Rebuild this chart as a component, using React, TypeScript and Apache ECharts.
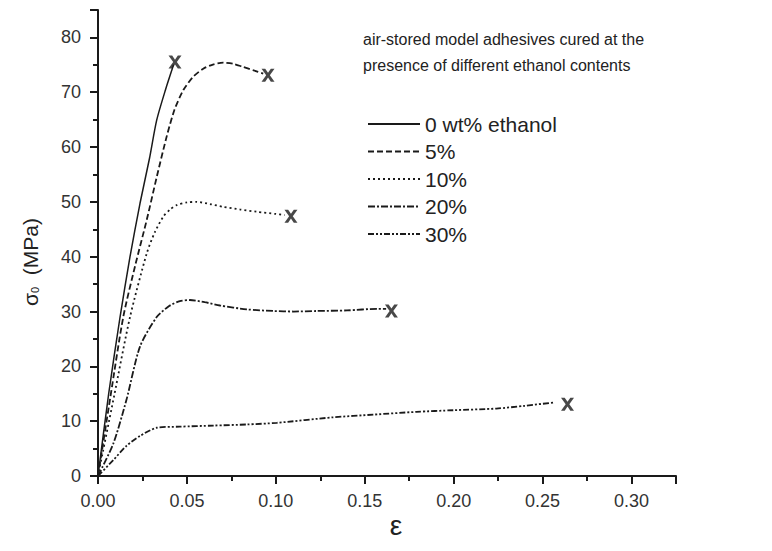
import React, { useEffect, useRef } from "react";
import * as echarts from "echarts";

const seriesNames = ["0 wt% ethanol", "5%", "10%", "20%", "30%"];

const strain0 = [0, 0.006, 0.0124, 0.018, 0.0236, 0.029, 0.033, 0.038, 0.0425];
const stress0 = [0, 15, 29, 40, 49.7, 58, 64.9, 70.5, 75];

const strain5 = [0, 0.007, 0.0142, 0.021, 0.0274, 0.033, 0.0386, 0.043, 0.048, 0.0535, 0.0592, 0.065, 0.0704, 0.076, 0.0817, 0.0875, 0.0929];
const stress5 = [0, 14.5, 29, 38.5, 46.7, 54.5, 61.9, 66.8, 70.4, 72.8, 74.3, 75.1, 75.4, 75.2, 74.6, 74, 73.4];

const strain10 = [0, 0.009, 0.018, 0.0274, 0.032, 0.0367, 0.0405, 0.0442, 0.05, 0.0555, 0.063, 0.0704, 0.08, 0.0892, 0.1, 0.105];
const stress10 = [0, 14.5, 29, 40.6, 44.5, 47.3, 48.6, 49.4, 49.9, 50, 49.6, 49.1, 48.6, 48.2, 47.8, 47.6];

const strain20 = [0, 0.0086, 0.016, 0.0236, 0.033, 0.04, 0.046, 0.0517, 0.06, 0.0686, 0.0836, 0.0985, 0.11, 0.123, 0.14, 0.157, 0.162];
const stress20 = [0, 5.9, 13.9, 23.6, 29, 31, 31.9, 32.1, 31.7, 31.1, 30.4, 30.1, 30, 30.1, 30.2, 30.5, 30.5];

const strain30 = [0, 0.0086, 0.016, 0.0236, 0.033, 0.046, 0.065, 0.0836, 0.1005, 0.132, 0.155, 0.179, 0.2, 0.224, 0.24, 0.256];
const stress30 = [0, 2.9, 5.5, 7.3, 8.8, 9.0, 9.2, 9.4, 9.7, 10.7, 11.2, 11.7, 12.0, 12.3, 12.8, 13.4];

const failureStrain = [0.0433, 0.0956, 0.1085, 0.165, 0.264];
const failureStress = [75.5, 73.1, 47.4, 30.1, 13.1];

const xTicks = [0, 0.05, 0.1, 0.15, 0.2, 0.25, 0.3];
const yTicks = [0, 10, 20, 30, 40, 50, 60, 70, 80];

const titleLines = [
  "air-stored model adhesives cured at the",
  "presence of different ethanol contents",
];

const FONT = "'Liberation Sans', Arial, Helvetica, sans-serif";
const INK = "#1a1a1a";

const zip = (xs: number[], ys: number[]) => xs.map((x, i) => [x, ys[i]]);

const dashTypes: any[] = [
  "solid",
  [6, 3],
  [2, 3],
  [7, 2, 2, 2],
  [6, 2, 2, 2, 2, 2],
];

export default function App() {
  const ref = useRef<HTMLDivElement>(null);

  useEffect(() => {
    document.body.style.margin = "0";
    const chart = echarts.init(ref.current!, null, { renderer: "svg" });
    const lineData = [
      zip(strain0, stress0),
      zip(strain5, stress5),
      zip(strain10, stress10),
      zip(strain20, stress20),
      zip(strain30, stress30),
    ];
    const isTick = (v: number, list: number[]) =>
      list.some((t) => Math.abs(t - v) < 1e-9);

    const option: any = {
      animation: false,
      backgroundColor: "#ffffff",
      grid: { left: 98, right: 96, top: 10, bottom: 75, containLabel: false },
      xAxis: {
        type: "value",
        min: 0,
        max: 0.325,
        interval: 0.05,
        axisLine: { show: true, onZero: false, lineStyle: { color: INK, width: 2 } },
        axisTick: { show: true, inside: false, length: 8, lineStyle: { color: INK, width: 2 } },
        minorTick: { show: true, splitNumber: 2, length: 5, lineStyle: { color: INK, width: 2 } },
        splitLine: { show: false },
        axisLabel: {
          color: "#333",
          fontSize: 18,
          fontFamily: FONT,
          margin: 16,
          showMaxLabel: false,
          formatter: (v: number) => (isTick(v, xTicks) ? v.toFixed(2) : ""),
        },
      },
      yAxis: {
        type: "value",
        min: 0,
        max: 85,
        interval: 10,
        axisLine: { show: true, onZero: false, lineStyle: { color: INK, width: 2 } },
        axisTick: { show: true, inside: false, length: 8, lineStyle: { color: INK, width: 2 } },
        minorTick: { show: true, splitNumber: 2, length: 5, lineStyle: { color: INK, width: 2 } },
        splitLine: { show: false },
        axisLabel: {
          color: "#333",
          fontSize: 18,
          fontFamily: FONT,
          margin: 17,
          showMaxLabel: false,
          formatter: (v: number) => (isTick(v, yTicks) ? String(v) : ""),
        },
      },
      legend: {
        orient: "vertical",
        left: 362,
        top: 108.5,
        itemWidth: 52,
        itemHeight: 14,
        itemGap: 6.5,
        data: seriesNames,
        itemStyle: { opacity: 0 },
        textStyle: { fontSize: 21, lineHeight: 21, color: "#222", fontFamily: FONT },
      },
      graphic: [
        {
          type: "text",
          left: 363,
          top: 31,
          style: { text: titleLines[0], font: `16px ${FONT}`, fill: "#222" },
        },
        {
          type: "text",
          left: 363,
          top: 57,
          style: { text: titleLines[1], font: `16px ${FONT}`, fill: "#222" },
        },
        {
          type: "text",
          x: 30,
          y: 262,
          rotation: Math.PI / 2,
          style: {
            text: "σ{sub|0}  (MPa)",
            font: `21px ${FONT}`,
            fill: "#222",
            align: "center",
            verticalAlign: "middle",
            rich: {
              sub: { fontSize: 11, fontFamily: FONT, verticalAlign: "bottom", padding: [10, 0, 0, 0] },
            },
          },
        },
        {
          type: "text",
          x: 396,
          y: 525,
          style: {
            text: "ε",
            font: `28px ${FONT}`,
            fill: "#222",
            align: "center",
            verticalAlign: "middle",
          },
        },
      ],
      series: [
        ...seriesNames.map((name, i) => ({
          name,
          type: "line",
          data: lineData[i],
          smooth: 0.25,
          symbol: "none",
          showSymbol: false,
          color: INK,
          lineStyle: { color: INK, width: i === 0 ? 1.5 : 1.8, type: dashTypes[i] },
        })),
        {
          name: "failure",
          type: "scatter",
          data: zip(failureStrain, failureStress),
          symbol:
            "path://M0,0 L3.4,0 L6,3.8 L8.6,0 L12,0 L7.7,6 L12,12 L8.6,12 L6,8.2 L3.4,12 L0,12 L4.3,6 Z",
          symbolSize: [13, 13],
          itemStyle: { color: INK },
          silent: true,
        },
      ],
    };
    chart.setOption(option);
    return () => chart.dispose();
  }, []);

  return <div ref={ref} style={{ width: 772, height: 551 }} />;
}
